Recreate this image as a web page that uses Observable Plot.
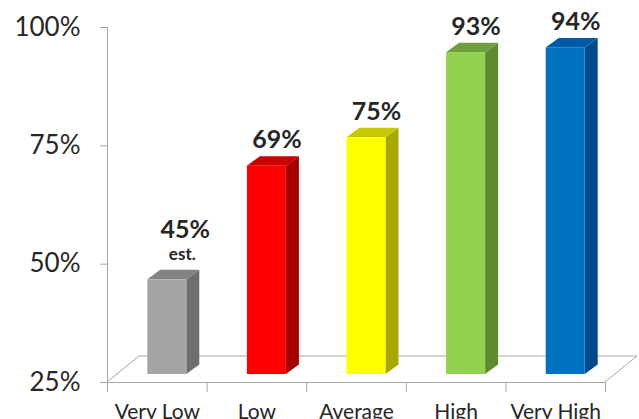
<!DOCTYPE html>
<html><head><meta charset="utf-8">
<script src="https://cdn.jsdelivr.net/npm/d3@7"></script>
<script src="https://cdn.jsdelivr.net/npm/@observablehq/plot@0.6"></script>
<style>body{margin:0;background:#fff;} svg{display:block;}</style>
</head><body><div id="chart"></div>
<script>
const categories = ["Very Low", "Low", "Average", "High", "Very High"];
const values = [45, 69, 75, 93, 94];
const valueLabels = ["45%", "69%", "75%", "93%", "94%"];
const notes = ["est.", "", "", "", ""];
const yTicks = [25, 50, 75, 100];
const frontColors = ["#a5a5a5", "#ff0000", "#ffff00", "#92d050", "#0070c0"];
const sideColors = ["#6e6e6e", "#a50000", "#a8a800", "#5f8a31", "#004b8d"];
const topColors = ["#828282", "#c80000", "#c8c800", "#6f9e3c", "#0059a6"];

const data = categories.map((c, i) => ({
  i, category: c, value: values[i], label: valueLabels[i], note: notes[i],
  front: frontColors[i], side: sideColors[i], top: topColors[i]
}));
const base = yTicks[0];
const boundaries = d3.range(categories.length + 1);
const font = "Lato, 'Open Sans', sans-serif";
const textColor = "#262626";
const lineColor = "#a6a6a6";

// 3D styling constants (pixels)
const shift = 10, frontW = 39, depthX = 13, depthY = 9.5, lift = 8, floorDX = 32, floorDY = 26;

function draw3D(index, scales, vals) {
  const g = d3.create("svg:g");
  const x0 = scales.x(0), xN = scales.x(categories.length), yb = scales.y(base);
  g.append("path")
    .attr("d", `M${x0},${yb}L${x0 + floorDX},${yb - floorDY}L${xN + floorDX},${yb - floorDY}L${xN},${yb}`)
    .attr("fill", "none").attr("stroke", lineColor);
  for (const i of index) {
    const d = data[i];
    const cx = (vals.x1[i] + vals.x2[i]) / 2 + shift;
    const L = cx - frontW / 2, R = cx + frontW / 2;
    const B = vals.y1[i] - lift, T = vals.y2[i] - lift;
    g.append("path").attr("d", `M${R},${B}L${R + depthX},${B - depthY}L${R + depthX},${T - depthY}L${R},${T}Z`).attr("fill", d.side);
    g.append("path").attr("d", `M${L},${T}L${L + depthX},${T - depthY}L${R + depthX},${T - depthY}L${R},${T}Z`).attr("fill", d.top);
    g.append("rect").attr("x", L).attr("y", T).attr("width", frontW).attr("height", B - T).attr("fill", d.front);
  }
  return g.node();
}

const plot = Plot.plot({
  width: 639,
  height: 419,
  marginLeft: 107,
  marginRight: 34,
  marginTop: 27,
  marginBottom: 37,
  style: {fontFamily: font, background: "#fff", overflow: "visible"},
  x: {type: "linear", domain: [0, categories.length], axis: null},
  y: {domain: [base, yTicks[yTicks.length - 1]], axis: null},
  marks: [
    Plot.ruleY([base], {stroke: lineColor}),
    Plot.ruleX([0], {y1: base, y2: yTicks[yTicks.length - 1], stroke: lineColor}),
    Plot.axisY({ticks: yTicks, tickFormat: d => d + "%", tickSize: 7, tickPadding: 20, fontSize: 26, stroke: lineColor, fill: textColor, label: null}),
    Plot.axisX({ticks: boundaries, tickFormat: () => "", tickSize: 10, stroke: lineColor, label: null}),
    Plot.text(data, {x: d => d.i + 0.5, y: base, text: "category", dy: 30, fontSize: 21, fill: textColor}),
    Plot.rect(data, {x1: "i", x2: d => d.i + 1, y1: () => base, y2: "value", render: draw3D}),
    Plot.text(data.filter(d => !d.note), {x: d => d.i + 0.5, y: "value", text: "label", dx: 20, dy: -34, fontSize: 25, fontWeight: "bold", fill: textColor}),
    Plot.text(data.filter(d => d.note), {x: d => d.i + 0.5, y: "value", text: "label", dx: 28, dy: -58, fontSize: 25, fontWeight: "bold", fill: textColor}),
    Plot.text(data.filter(d => d.note), {x: d => d.i + 0.5, y: "value", text: "note", dx: 25, dy: -33, fontSize: 17, fontWeight: "bold", fill: textColor})
  ]
});
document.getElementById("chart").appendChild(plot);
</script>
</body></html>
